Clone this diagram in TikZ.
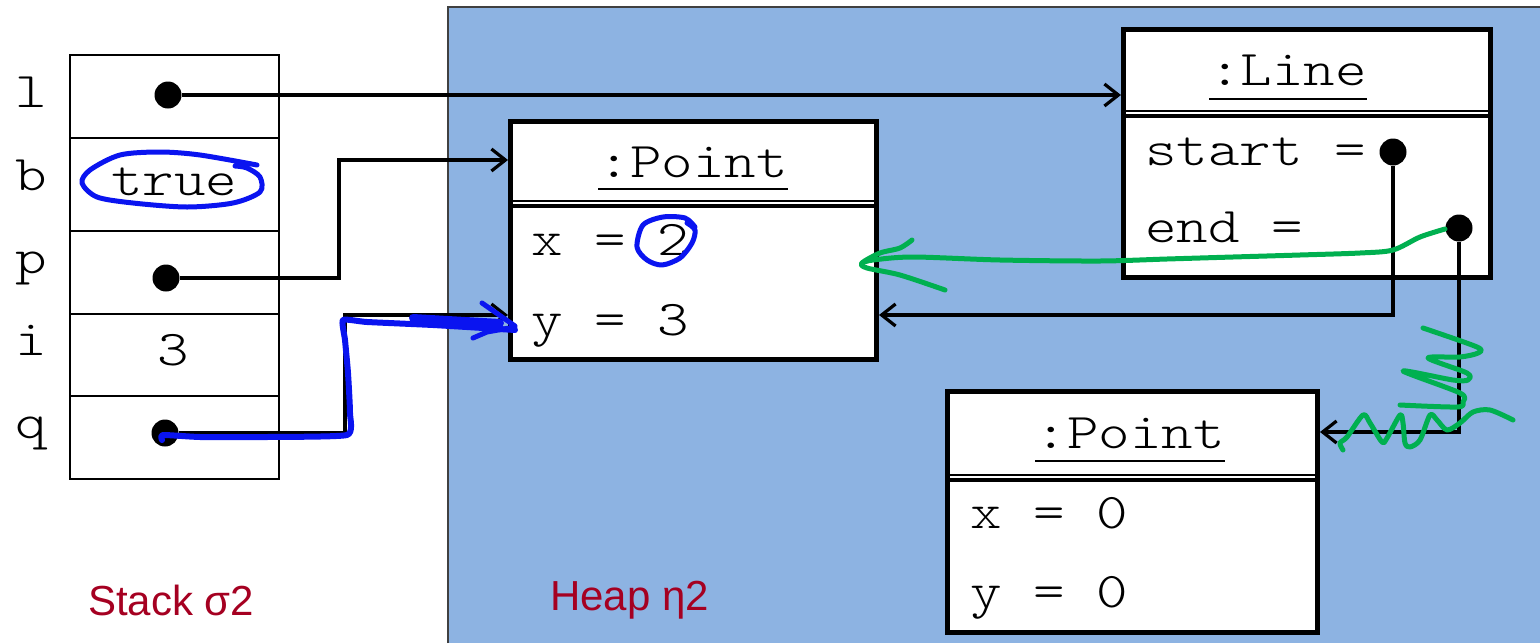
\documentclass[tikz,border=0pt]{standalone}
\usepackage{fontspec}
\setsansfont{Liberation Sans}
\setmonofont{lmmonolt10-regular.otf}[FakeStretch=1.2]
\usetikzlibrary{arrows.meta}
\definecolor{heapfill}{HTML}{8DB3E2}
\definecolor{capred}{HTML}{A50021}
\definecolor{inkblue}{HTML}{0A14F0}
\definecolor{inkgreen}{HTML}{00B050}

\begin{document}
\begin{tikzpicture}[x=1pt,y=-1pt,
  mono/.style={inner sep=0pt, anchor=base west, font=\ttfamily\fontsize{50}{60}\selectfont},
  caption/.style={inner sep=0pt, anchor=base west, text=capred, font=\sffamily\fontsize{42}{50}\selectfont},
  objbox/.style={draw=black, fill=white, line width=5pt, inner sep=0pt},
  refdot/.style={circle, fill=black, inner sep=0pt, minimum size=27pt},
  ptr/.style={line width=3.2pt, -{Straight Barb[length=14pt, width=22pt]}},
  ink/.style={line width=5pt, line cap=round, line join=round}]
\useasboundingbox (0,0) rectangle (1540,643);
\fill[heapfill] (448,7) rectangle (1540,643);
\draw[black!75, line width=1.5pt] (448,643) -- (448,7) -- (1540,7);
\draw[line width=2.5pt] (70,55) rectangle (279,479);
\foreach \y in {138,231,314,396} \draw[line width=2.5pt] (70,\y) -- (279,\y);
\foreach \v/\y in {l/107,b/190,p/273,i/355,q/438}
  \node[mono, anchor=base] (var\v) at (31,\y) {\v};
\node[mono, anchor=base] (valb) at (174,195) {true};
\node[mono, anchor=base] (vali) at (173,365) {3};
\node[refdot] (refl) at (168,95) {};
\node[refdot] (refp) at (166,278) {};
\node[refdot] (refq) at (165,433) {};

\node[objbox, minimum width=366pt, minimum height=238pt] (pta) at (693.5,240.5) {};
\draw[line width=2pt] (511,201) -- (876,201);
\draw[line width=4pt] (511,206) -- (876,206);
\node[mono, anchor=base] (ptat) at (693,177) {:Point};
\draw[line width=2.5pt] ([yshift=-12pt]ptat.base west) -- ([yshift=-12pt]ptat.base east);
\node[mono] (ptax) at (531,255) {x = 2};
\node[mono] (ptay) at (531,335) {y = 3};

\node[objbox, minimum width=367pt, minimum height=248pt] (line) at (1307,153.5) {};
\draw[line width=2pt] (1124,111) -- (1490,111);
\draw[line width=4pt] (1124,116) -- (1490,116);
\node[mono, anchor=base] (linet) at (1288,85) {:Line};
\draw[line width=2.5pt] ([yshift=-14pt]linet.base west) -- ([yshift=-14pt]linet.base east);
\node[mono] (lines) at (1145,165) {start =};
\node[mono] (linee) at (1145,242) {end =};
\node[refdot] (refs) at (1393,152) {};
\node[refdot] (refe) at (1459,228) {};

\node[objbox, minimum width=370pt, minimum height=241pt] (ptb) at (1132.5,512) {};
\draw[line width=2pt] (948,475) -- (1317,475);
\draw[line width=4pt] (948,480) -- (1317,480);
\node[mono, anchor=base] (ptbt) at (1130,448) {:Point};
\draw[line width=2.5pt] ([yshift=-13pt]ptbt.base west) -- ([yshift=-13pt]ptbt.base east);
\node[mono] (ptbx) at (970,528) {x = 0};
\node[mono] (ptby) at (970,607) {y = 0};

\draw[ptr] (refl) -- (line.west |- refl);
\coordinate (bendp) at (339,160);
\draw[ptr] (refp) -| (bendp) -- (pta.west |- bendp);
\coordinate (bendq) at (345,315);
\draw[ptr] (refq) -| (bendq) -- (pta.west |- bendq);
\coordinate (bends) at (1393,315);
\draw[ptr] (refs) |- (pta.east |- bends);
\coordinate (bende) at (1459,432);
\draw[ptr] (refe) |- (ptb.east |- bende);

\draw[ink, inkblue] plot[smooth] coordinates {(257,165) (200,155) (160,152) (120,155) (90,170) (82,183) (97,197) (133,203) (187,207) (233,203) (260,192) (260,177) (247,168) (235,166)};
\draw[ink, inkblue] plot[smooth] coordinates {(695,227) (685,218) (663,217) (643,225) (637,247) (647,260) (662,265) (680,258) (692,243) (695,230) (687,223)};
\draw[ink, inkblue, line width=6pt] plot[smooth, tension=0.3] coordinates {(162,440) (163,435) (200,437) (267,437) (347,435) (350,413) (348,373) (345,340) (343,320) (367,322) (433,325) (483,328) (515,330)};
\draw[ink, inkblue, line width=8pt] (413,318) -- (500,323);
\draw[ink, inkblue] (482,303) -- (515,326) (473,338) -- (487,332) -- (515,327);

\draw[ink, inkgreen] plot[smooth] coordinates {(1445,229) (1420,237) (1393,250) (1360,253) (1300,255) (1233,257) (1167,259) (1100,261) (1000,260) (913,257) (873,260) (862,263)};
\draw[ink, inkgreen] plot[smooth] coordinates {(912,240) (900,248) (880,253) (862,263) (867,268) (900,275) (945,290)};
\draw[ink, inkgreen] plot[smooth] coordinates {(1423,328) (1477,347) (1478,353) (1460,357) (1428,358) (1467,373) (1468,380) (1453,380) (1403,371) (1460,393) (1463,402) (1457,407) (1400,405)};
\draw[ink, inkgreen] plot[smooth] coordinates {(1343,450) (1340,443) (1347,437) (1363,415) (1370,423) (1382,442) (1387,438) (1400,415) (1403,423) (1405,443) (1410,447) (1420,440) (1430,415) (1437,420) (1447,430) (1460,423) (1473,412) (1490,410) (1513,420)};

\node[caption] (stackcap) at (88,615) {Stack σ2};
\node[caption] (heapcap) at (550,610) {Heap η2};
\end{tikzpicture}
\end{document}
